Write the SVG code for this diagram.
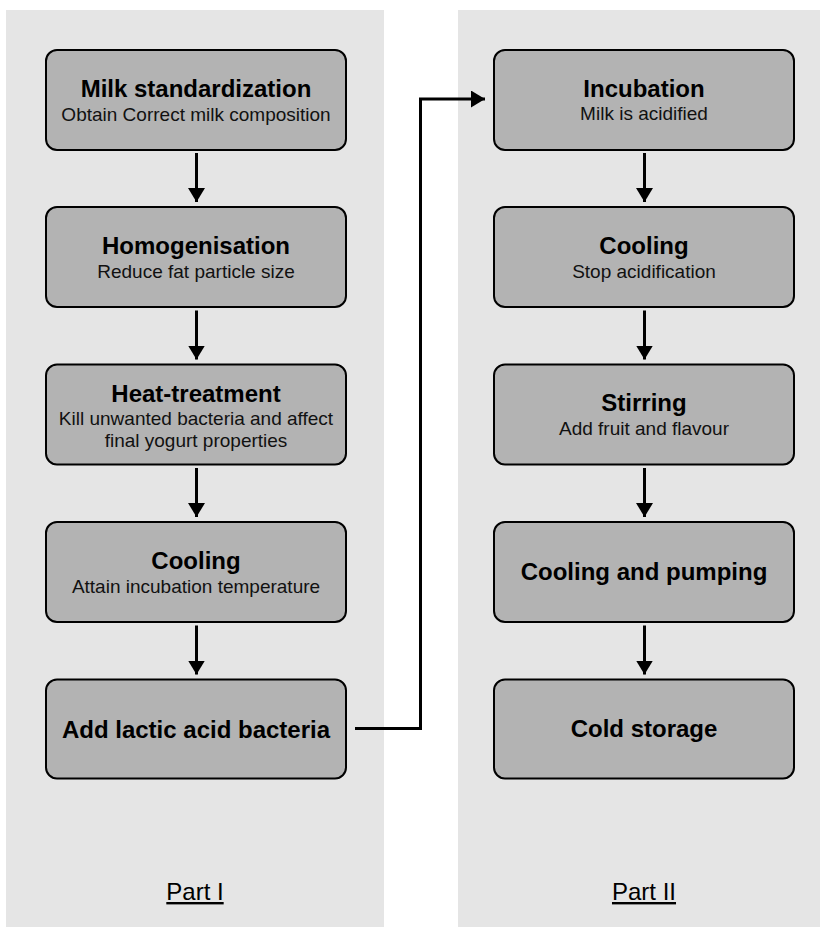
<svg xmlns="http://www.w3.org/2000/svg" width="820" height="927" viewBox="0 0 820 927">
<style>
.panel{fill:#e5e5e5}
.box{fill:#b3b3b3;stroke:#000;stroke-width:2}
.t{font-family:"Liberation Sans",Arial,sans-serif;font-weight:bold;font-size:24px;fill:#000;text-anchor:middle}
.s{font-family:"Liberation Sans",Arial,sans-serif;font-size:19px;fill:#111;text-anchor:middle}
.p{font-family:"Liberation Sans",Arial,sans-serif;font-size:24px;fill:#000;text-anchor:middle;text-decoration:underline}
.c{fill:none;stroke:#000;stroke-width:3;marker-end:url(#ah)}
</style>
<defs>
<marker id="ah" markerUnits="userSpaceOnUse" markerWidth="15" markerHeight="18" refX="14" refY="8.5" orient="auto">
<path d="M0,0 L14,8.5 L0,17 z" fill="#000"/>
</marker>
</defs>
<rect class="panel" x="6" y="10" width="378" height="917"/>
<rect class="panel" x="458" y="10" width="362" height="917"/>
<text class="p" x="195" y="900">Part I</text>
<text class="p" x="644" y="900">Part II</text>

<g id="n1"><rect class="box" x="46" y="50" width="300" height="100" rx="11"/>
<text class="t" x="196" y="97">Milk standardization</text>
<text class="s" x="196" y="121">Obtain Correct milk composition</text></g>
<g id="n2"><rect class="box" x="46" y="207" width="300" height="100" rx="11"/>
<text class="t" x="196" y="254">Homogenisation</text>
<text class="s" x="196" y="278">Reduce fat particle size</text></g>
<g id="n3"><rect class="box" x="46" y="364.5" width="300" height="100" rx="11"/>
<text class="t" x="196" y="402">Heat-treatment</text>
<text class="s" x="196" y="425">Kill unwanted bacteria and affect</text>
<text class="s" x="196" y="447">final yogurt properties</text></g>
<g id="n4"><rect class="box" x="46" y="522" width="300" height="100" rx="11"/>
<text class="t" x="196" y="569">Cooling</text>
<text class="s" x="196" y="593">Attain incubation temperature</text></g>
<g id="n5"><rect class="box" x="46" y="679.5" width="300" height="99" rx="11"/>
<text class="t" x="196" y="738">Add lactic acid bacteria</text></g>

<g id="n6"><rect class="box" x="494" y="50" width="300" height="100" rx="11"/>
<text class="t" x="644" y="97">Incubation</text>
<text class="s" x="644" y="120">Milk is acidified</text></g>
<g id="n7"><rect class="box" x="494" y="207" width="300" height="100" rx="11"/>
<text class="t" x="644" y="254">Cooling</text>
<text class="s" x="644" y="278">Stop acidification</text></g>
<g id="n8"><rect class="box" x="494" y="364.5" width="300" height="100" rx="11"/>
<text class="t" x="644" y="411">Stirring</text>
<text class="s" x="644" y="435">Add fruit and flavour</text></g>
<g id="n9"><rect class="box" x="494" y="522" width="300" height="100" rx="11"/>
<text class="t" x="644" y="580">Cooling and pumping</text></g>
<g id="n10"><rect class="box" x="494" y="679.5" width="300" height="99" rx="11"/>
<text class="t" x="644" y="737">Cold storage</text></g>

<g id="connectors">
<line class="c" x1="196.5" y1="153" x2="196.5" y2="202"/>
<line class="c" x1="196.5" y1="310.5" x2="196.5" y2="359.5"/>
<line class="c" x1="196.5" y1="468" x2="196.5" y2="517"/>
<line class="c" x1="196.5" y1="625.5" x2="196.5" y2="674.5"/>
<line class="c" x1="644.5" y1="153" x2="644.5" y2="202"/>
<line class="c" x1="644.5" y1="310.5" x2="644.5" y2="359.5"/>
<line class="c" x1="644.5" y1="468" x2="644.5" y2="517"/>
<line class="c" x1="644.5" y1="625.5" x2="644.5" y2="674.5"/>
<polyline class="c" points="355,728.5 420.5,728.5 420.5,99 485,99"/>
</g>
</svg>
